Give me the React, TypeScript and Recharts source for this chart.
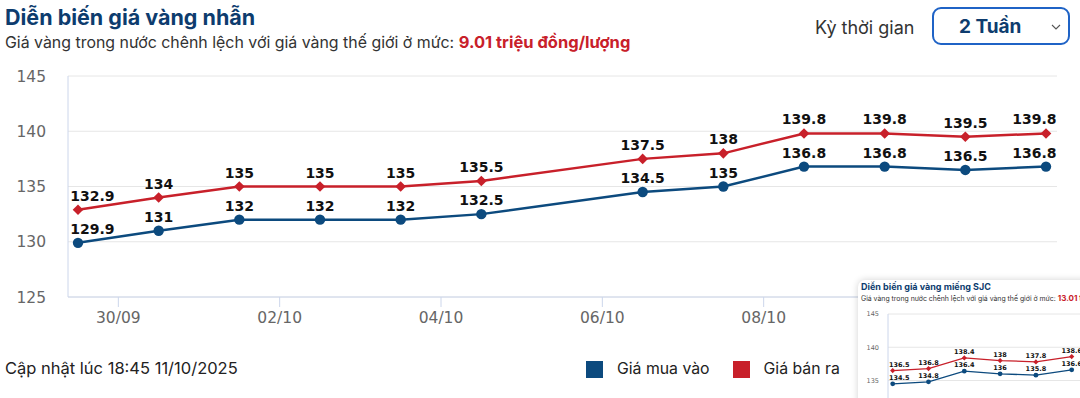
import React from "react";
import {
  LineChart,
  Line,
  XAxis,
  YAxis,
  CartesianGrid,
  LabelList,
} from "recharts";

// Giá vàng nhẫn (triệu đồng/lượng)
const dates = ["29/09", "30/09", "01/10", "02/10", "03/10", "04/10", "06/10", "07/10", "08/10", "09/10", "10/10", "11/10"];
const buyPrices = [129.9, 131, 132, 132, 132, 132.5, 134.5, 135, 136.8, 136.8, 136.5, 136.8];
const sellPrices = [132.9, 134, 135, 135, 135, 135.5, 137.5, 138, 139.8, 139.8, 139.5, 139.8];
const xTickLabels = ["30/09", "02/10", "04/10", "06/10", "08/10"];
const yTicks = [125, 130, 135, 140, 145];

// Ô nhỏ: giá vàng miếng SJC
const sjcDates = ["29/09", "30/09", "01/10", "02/10", "03/10", "04/10"];
const sjcBuy = [134.5, 134.8, 136.4, 136, 135.8, 136.6];
const sjcSell = [136.5, 136.8, 138.4, 138, 137.8, 138.6];

const BLUE = "#0c4a7e";
const RED = "#c8202a";
const NAVY = "#0d3c6e";
const HEAD_FONT = "Inter, 'Noto Sans', sans-serif";
const AXIS_FONT = "'DejaVu Sans', Verdana, sans-serif";

// dd/mm -> số ngày kể từ ngày đầu
const base = Date.UTC(2025, 8, 29);
const dayNum = (d: string) => {
  const [dd, mm] = d.split("/").map(Number);
  return (Date.UTC(2025, mm - 1, dd) - base) / 86400000;
};

const mainData = dates.map((d, i) => ({
  x: dayNum(d) + 0.5,
  buy: buyPrices[i],
  sell: sellPrices[i],
}));
const sjcData = sjcDates.map((d, i) => ({
  x: dayNum(d) + 0.5,
  buy: sjcBuy[i],
  sell: sjcSell[i],
}));
const xTicks = xTickLabels.map(dayNum);
const tickName = (v: number) => xTickLabels[xTicks.indexOf(v)] ?? "";

const makeLabel =
  (count: number, offset: number, size: number, shiftL: number, shiftR: number) =>
  (p: any) => {
    const { x, y, value, index } = p;
    let anchor: "middle" | "start" | "end" = "middle";
    let tx = x;
    if (index === 0) {
      anchor = "start";
      tx = x - shiftL;
    } else if (index === count - 1) {
      anchor = "end";
      tx = x + shiftR;
    }
    return (
      <text
        key={`l-${index}`}
        x={tx}
        y={y - offset}
        textAnchor={anchor}
        fontSize={size}
        fontWeight="bold"
        fontFamily={AXIS_FONT}
        fill="#111"
      >
        {value}
      </text>
    );
  };

const diamond = (r: number) => (p: any) => {
  const { cx, cy, index } = p;
  return (
    <path
      key={`d-${index}`}
      d={`M${cx} ${cy - r} L${cx + r} ${cy} L${cx} ${cy + r} L${cx - r} ${cy} Z`}
      fill={RED}
    />
  );
};

function SjcInset() {
  return (
    <div
      style={{
        position: "absolute",
        left: 858,
        top: 280,
        width: 240,
        height: 140,
        background: "#fff",
        borderRadius: 7,
        boxShadow: "0 0 7px rgba(0,0,0,0.18)",
        overflow: "hidden",
      }}
    >
      <div
        style={{
          position: "absolute",
          left: 3,
          top: 1,
          fontSize: 9,
          lineHeight: "12px",
          fontWeight: 700,
          color: NAVY,
          whiteSpace: "nowrap",
          fontFamily: HEAD_FONT,
        }}
      >
        Diễn biến giá vàng miếng SJC
      </div>
      <div
        style={{
          position: "absolute",
          left: 3,
          top: 14,
          fontSize: 6.9,
          lineHeight: "9px",
          color: "#333",
          whiteSpace: "nowrap",
          fontFamily: HEAD_FONT,
        }}
      >
        Giá vàng trong nước chênh lệch với giá vàng thế giới ở mức:{" "}
        <span style={{ color: RED, fontWeight: 700, fontSize: 8 }}>13.01 triệu đồng/lượng</span>
      </div>
      <div style={{ position: "absolute", left: 0, top: 0 }}>
        <LineChart
          width={222}
          height={190}
          data={sjcData}
          margin={{ top: 34, right: 0, left: 0, bottom: 23 }}
        >
          <CartesianGrid horizontal vertical={false} stroke="#e6e6e6" />
          <XAxis
            dataKey="x"
            type="number"
            domain={["dataMin", "dataMax"]}
            padding={{ left: 4.7, right: 8.3 }}
            hide
          />
          <YAxis
            width={30}
            domain={[125, 145]}
            ticks={yTicks}
            tickSize={0}
            tickMargin={9}
            axisLine={{ stroke: "#ccd6eb" }}
            tickLine={false}
            tick={{ fontSize: 6.5, fill: "#666", fontFamily: AXIS_FONT }}
          />
          <Line
            dataKey="sell"
            stroke={RED}
            strokeWidth={1.3}
            dot={diamond(2.6)}
            isAnimationActive={false}
          >
            <LabelList dataKey="sell" content={makeLabel(99, 4, 6.5, 3.7, 4)} />
          </Line>
          <Line
            dataKey="buy"
            stroke={BLUE}
            strokeWidth={1.3}
            dot={{ r: 2.4, fill: BLUE, stroke: "none" }}
            isAnimationActive={false}
          >
            <LabelList dataKey="buy" content={makeLabel(99, 4, 6.5, 3.7, 4)} />
          </Line>
        </LineChart>
      </div>
    </div>
  );
}

export default function App() {
  const n = mainData.length;
  return (
    <div
      style={{
        position: "absolute",
        left: 0,
        top: 0,
        width: 1080,
        height: 398,
        overflow: "hidden",
        background: "#fff",
        fontFamily: HEAD_FONT,
      }}
    >
      <div style={{ position: "absolute", left: 0, top: 0 }}>
        <LineChart
          width={1080}
          height={340}
          data={mainData}
          margin={{ top: 76, right: 23, left: 8, bottom: 13 }}
        >
          <CartesianGrid horizontal vertical={false} stroke="#e6e6e6" />
          <XAxis
            dataKey="x"
            type="number"
            domain={["dataMin", "dataMax"]}
            padding={{ left: 10, right: 11 }}
            ticks={xTicks}
            tickFormatter={tickName}
            height={30}
            tickSize={10}
            tickMargin={5}
            axisLine={{ stroke: "#ccd6eb" }}
            tickLine={{ stroke: "#ccd6eb" }}
            tick={{ fontSize: 15.5, fill: "#666", fontFamily: AXIS_FONT }}
          />
          <YAxis
            width={60}
            domain={[125, 145]}
            ticks={yTicks}
            tickSize={0}
            tickMargin={22}
            axisLine={{ stroke: "#ccd6eb" }}
            tickLine={false}
            tick={{ fontSize: 15.5, fill: "#666", fontFamily: AXIS_FONT }}
          />
          <Line
            dataKey="sell"
            stroke={RED}
            strokeWidth={2.5}
            dot={diamond(5.3)}
            isAnimationActive={false}
          >
            <LabelList dataKey="sell" content={makeLabel(n, 9, 14, 7.7, 10.5)} />
          </Line>
          <Line
            dataKey="buy"
            stroke={BLUE}
            strokeWidth={2.5}
            dot={{ r: 5.2, fill: BLUE, stroke: "none" }}
            isAnimationActive={false}
          >
            <LabelList dataKey="buy" content={makeLabel(n, 9, 14, 7.7, 10.5)} />
          </Line>
        </LineChart>
      </div>

      <div
        style={{
          position: "absolute",
          left: 5,
          top: 4,
          fontSize: 21.5,
          lineHeight: "26px",
          fontWeight: 700,
          color: NAVY,
          whiteSpace: "nowrap",
        }}
      >
        Diễn biến giá vàng nhẫn
      </div>
      <div
        style={{
          position: "absolute",
          left: 5,
          top: 32,
          fontSize: 15.9,
          lineHeight: "20px",
          color: "#333",
          whiteSpace: "nowrap",
        }}
      >
        Giá vàng trong nước chênh lệch với giá vàng thế giới ở mức:{" "}
        <span style={{ color: RED, fontWeight: 700, fontSize: 16.5 }}>9.01 triệu đồng/lượng</span>
      </div>

      <div
        style={{
          position: "absolute",
          left: 815,
          top: 17,
          fontSize: 18,
          lineHeight: "22px",
          color: "#333",
          whiteSpace: "nowrap",
        }}
      >
        Kỳ thời gian
      </div>
      <div
        style={{
          position: "absolute",
          left: 932,
          top: 7,
          width: 138,
          height: 38,
          boxSizing: "border-box",
          border: "2px solid #1f63c6",
          borderRadius: 9,
        }}
      >
        <div
          style={{
            position: "absolute",
            left: 25,
            top: 6,
            fontSize: 19,
            lineHeight: "24px",
            fontWeight: 700,
            color: NAVY,
            whiteSpace: "nowrap",
          }}
        >
          2 Tuần
        </div>
        <svg
          width={10}
          height={6}
          style={{ position: "absolute", left: 117, top: 15 }}
        >
          <path d="M1 1 L5 5 L9 1" fill="none" stroke="#555" strokeWidth={1.1} />
        </svg>
      </div>

      <div
        style={{
          position: "absolute",
          left: 5,
          top: 357,
          fontSize: 16.5,
          lineHeight: "22px",
          color: "#222",
          whiteSpace: "nowrap",
        }}
      >
        Cập nhật lúc 18:45 11/10/2025
      </div>

      <div
        style={{
          position: "absolute",
          left: 586,
          top: 358,
          display: "flex",
          alignItems: "center",
          fontSize: 15.8,
          lineHeight: "22px",
          color: "#222",
          whiteSpace: "nowrap",
        }}
      >
        <span style={{ width: 17, height: 17, background: BLUE, display: "inline-block" }} />
        <span style={{ marginLeft: 14 }}>Giá mua vào</span>
        <span
          style={{ width: 17, height: 17, background: RED, display: "inline-block", marginLeft: 23 }}
        />
        <span style={{ marginLeft: 14 }}>Giá bán ra</span>
      </div>

      <SjcInset />
    </div>
  );
}
